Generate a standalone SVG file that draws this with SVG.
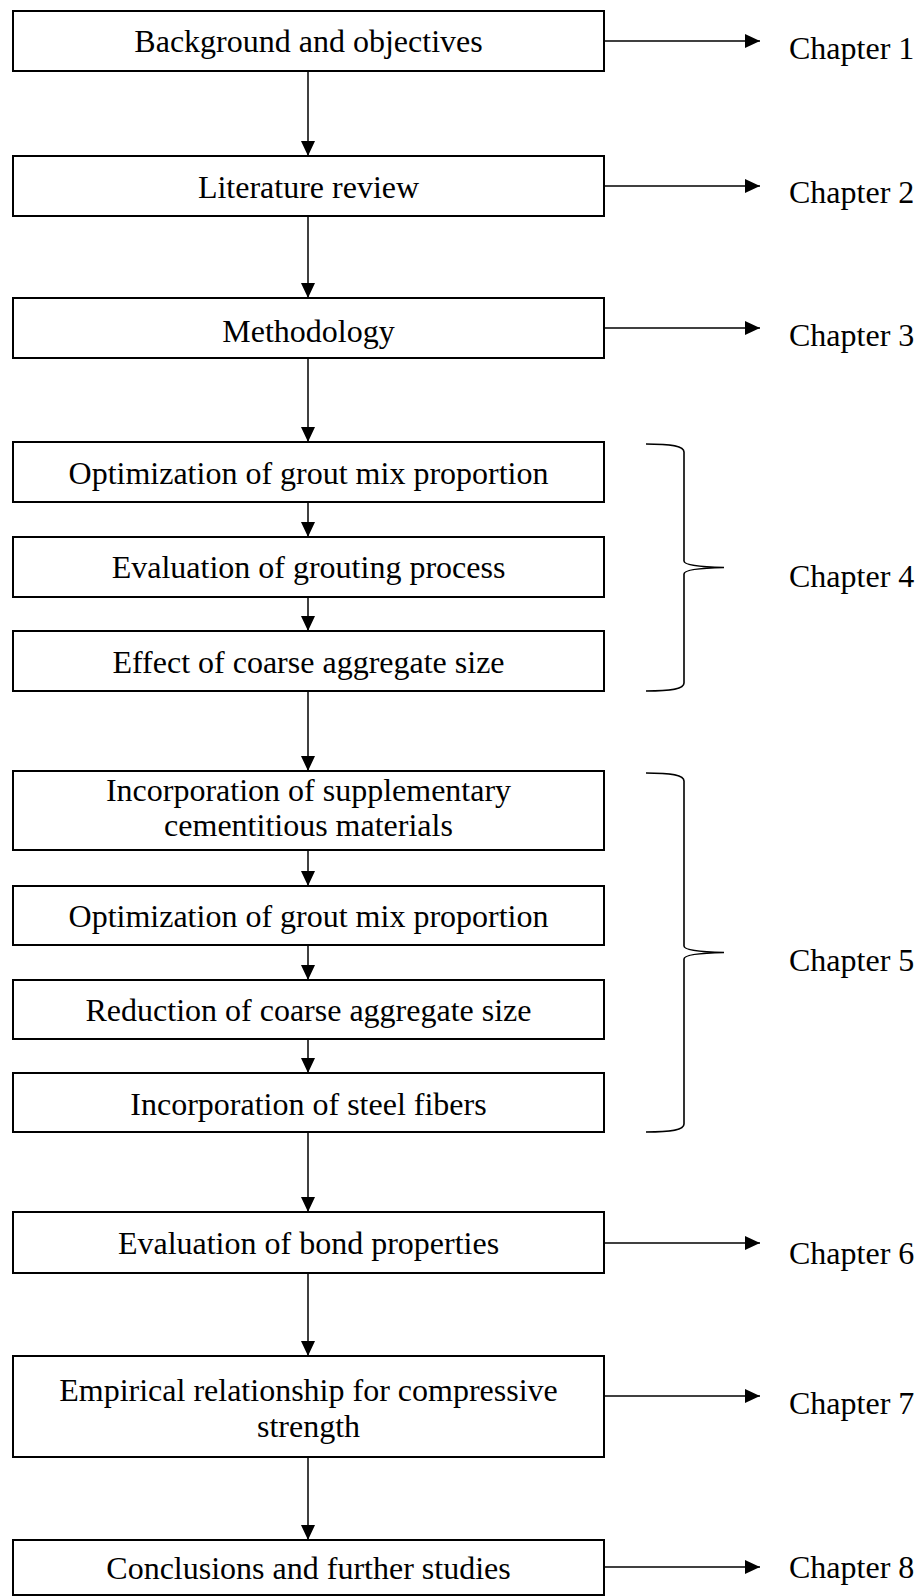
<svg xmlns="http://www.w3.org/2000/svg" width="918" height="1596" viewBox="0 0 918 1596">
<style>
.box{fill:#fff;stroke:#000;stroke-width:2}
.t{font-family:"Liberation Serif","Times New Roman",serif;font-size:32px;fill:#000;text-anchor:middle}
.ch{font-family:"Liberation Serif","Times New Roman",serif;font-size:32px;fill:#000}
.ln{stroke:#000;stroke-width:1.5;fill:none}
.br{stroke:#000;stroke-width:1.6;fill:none}
</style>
<defs>
<marker id="ah" markerWidth="15" markerHeight="14" refX="15" refY="7" orient="auto" markerUnits="userSpaceOnUse">
<path d="M0,0 L15,7 L0,14 Z" fill="#000"/>
</marker>
</defs>
<rect width="918" height="1596" fill="#fff"/>
<g id="connectors">
<line class="ln" x1="308" y1="71" x2="308" y2="156" marker-end="url(#ah)"/>
<line class="ln" x1="308" y1="216" x2="308" y2="298" marker-end="url(#ah)"/>
<line class="ln" x1="308" y1="358" x2="308" y2="442" marker-end="url(#ah)"/>
<line class="ln" x1="308" y1="502" x2="308" y2="537" marker-end="url(#ah)"/>
<line class="ln" x1="308" y1="597" x2="308" y2="631" marker-end="url(#ah)"/>
<line class="ln" x1="308" y1="691" x2="308" y2="771" marker-end="url(#ah)"/>
<line class="ln" x1="308" y1="850" x2="308" y2="886" marker-end="url(#ah)"/>
<line class="ln" x1="308" y1="945" x2="308" y2="980" marker-end="url(#ah)"/>
<line class="ln" x1="308" y1="1039" x2="308" y2="1073" marker-end="url(#ah)"/>
<line class="ln" x1="308" y1="1132" x2="308" y2="1212" marker-end="url(#ah)"/>
<line class="ln" x1="308" y1="1273" x2="308" y2="1356" marker-end="url(#ah)"/>
<line class="ln" x1="308" y1="1457" x2="308" y2="1540" marker-end="url(#ah)"/>
<line class="ln" x1="604" y1="41" x2="760" y2="41" marker-end="url(#ah)"/>
<line class="ln" x1="604" y1="186" x2="760" y2="186" marker-end="url(#ah)"/>
<line class="ln" x1="604" y1="328" x2="760" y2="328" marker-end="url(#ah)"/>
<line class="ln" x1="604" y1="1243" x2="760" y2="1243" marker-end="url(#ah)"/>
<line class="ln" x1="604" y1="1396" x2="760" y2="1396" marker-end="url(#ah)"/>
<line class="ln" x1="604" y1="1567" x2="760" y2="1567" marker-end="url(#ah)"/>
<path class="br" d="M646,444 C672,444 684,446 684,452 L684,561 C684,565 700,567 724,567.5 C700,568 684,570 684,574 L684,683 C684,689 672,691 646,691"/>
<path class="br" d="M646,773 C672,773 684,775 684,781 L684,946 C684,950 700,952 724,952.5 C700,953 684,955 684,959 L684,1124 C684,1130 672,1132 646,1132"/>
</g>
<g id="n1"><rect class="box" x="13" y="11" width="591" height="60"/><text class="t" x="308.5" y="52">Background and objectives</text></g>
<g id="n2"><rect class="box" x="13" y="156" width="591" height="60"/><text class="t" x="308.5" y="198">Literature review</text></g>
<g id="n3"><rect class="box" x="13" y="298" width="591" height="60"/><text class="t" x="308.5" y="342">Methodology</text></g>
<g id="n4"><rect class="box" x="13" y="442" width="591" height="60"/><text class="t" x="308.5" y="484">Optimization of grout mix proportion</text></g>
<g id="n5"><rect class="box" x="13" y="537" width="591" height="60"/><text class="t" x="308.5" y="578">Evaluation of grouting process</text></g>
<g id="n6"><rect class="box" x="13" y="631" width="591" height="60"/><text class="t" x="308.5" y="673">Effect of coarse aggregate size</text></g>
<g id="n7"><rect class="box" x="13" y="771" width="591" height="79"/><text class="t" x="308.5" y="801">Incorporation of supplementary</text><text class="t" x="308.5" y="836">cementitious materials</text></g>
<g id="n8"><rect class="box" x="13" y="886" width="591" height="59"/><text class="t" x="308.5" y="927">Optimization of grout mix proportion</text></g>
<g id="n9"><rect class="box" x="13" y="980" width="591" height="59"/><text class="t" x="308.5" y="1021">Reduction of coarse aggregate size</text></g>
<g id="n10"><rect class="box" x="13" y="1073" width="591" height="59"/><text class="t" x="308.5" y="1115">Incorporation of steel fibers</text></g>
<g id="n11"><rect class="box" x="13" y="1212" width="591" height="61"/><text class="t" x="308.5" y="1254">Evaluation of bond properties</text></g>
<g id="n12"><rect class="box" x="13" y="1356" width="591" height="101"/><text class="t" x="308.5" y="1401">Empirical relationship for compressive</text><text class="t" x="308.5" y="1437">strength</text></g>
<g id="n13"><rect class="box" x="13" y="1540" width="591" height="55"/><text class="t" x="308.5" y="1579">Conclusions and further studies</text></g>
<g id="chapters">
<text class="ch" x="789" y="59">Chapter 1</text>
<text class="ch" x="789" y="203">Chapter 2</text>
<text class="ch" x="789" y="346">Chapter 3</text>
<text class="ch" x="789" y="587">Chapter 4</text>
<text class="ch" x="789" y="971">Chapter 5</text>
<text class="ch" x="789" y="1264">Chapter 6</text>
<text class="ch" x="789" y="1414">Chapter 7</text>
<text class="ch" x="789" y="1578">Chapter 8</text>
</g>
</svg>
